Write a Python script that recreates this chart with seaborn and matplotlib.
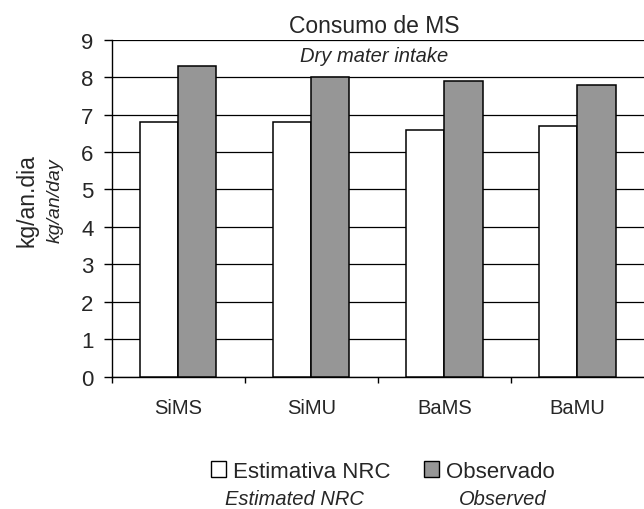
import matplotlib
matplotlib.use('Agg')
import matplotlib.pyplot as plt
import pandas as pd
import seaborn as sns
from matplotlib.patches import Patch

sns.set_style('white')
plt.rcParams['font.family'] = ['Liberation Sans', 'DejaVu Sans']

CATEGORIES = ['SiMS', 'SiMU', 'BaMS', 'BaMU']
ESTIMATED_NRC = [6.8, 6.8, 6.6, 6.7]
OBSERVED = [8.3, 8.0, 7.9, 7.8]
SERIES = ['Estimativa NRC', 'Observado']
SERIES_EN = ['Estimated NRC', 'Observed']
Y_TICKS = list(range(0, 10))


def main() -> None:
    """Draws the grouped bar chart and saves it."""
    df = pd.DataFrame({
        'category': CATEGORIES * 2,
        'value': ESTIMATED_NRC + OBSERVED,
        'series': [SERIES[0]] * len(CATEGORIES) + [SERIES[1]] * len(CATEGORIES),
    })
    colors = {SERIES[0]: '#ffffff', SERIES[1]: '#969696'}

    fig = plt.figure(figsize=(6.44, 5.10), dpi=100)
    ax = fig.add_axes([111.5 / 644, 0.2594, 532.5 / 644, 0.6608])
    sns.barplot(
        data=df, x='category', y='value', hue='series', order=CATEGORIES,
        hue_order=SERIES, palette=colors, width=0.575, edgecolor='black',
        linewidth=1.1, ax=ax, legend=False, zorder=3,
    )
    ax.set_xlim(-0.5, 3.5)
    ax.set_ylim(0, 9)
    ax.set_yticks(Y_TICKS)
    ax.yaxis.grid(True, color='black', linewidth=0.9, zorder=0)
    ax.set_axisbelow(True)
    for side in ['top', 'right']:
        ax.spines[side].set_visible(False)
    for side in ['left', 'bottom']:
        ax.spines[side].set_color('black')
        ax.spines[side].set_linewidth(1.0)

    ax.tick_params(axis='y', length=6, width=1, color='black', labelsize=16, pad=7, left=True)
    ax.set_xticks(range(len(CATEGORIES)))
    ax.set_xticklabels(CATEGORIES)
    ax.tick_params(axis='x', which='major', length=0, labelsize=14.5, pad=15)
    ax.set_xticks([-0.5, 0.5, 1.5, 2.5], minor=True)
    ax.tick_params(axis='x', which='minor', length=4, width=1, color='black', bottom=True)
    ax.set_xlabel('')
    ax.set_ylabel('')

    # titles
    fig.text(0.5815, 1 - 33 / 510, 'Consumo de MS', ha='center', va='baseline', fontsize=16.5)
    fig.text(0.5815, 1 - 62 / 510, 'Dry mater intake', ha='center', va='baseline',
             fontsize=14.5, style='italic')

    # y-axis labels
    fig.text(27 / 644, 0.607, 'kg/an.dia', rotation=90, ha='center', va='center', fontsize=16.5)
    fig.text(55 / 644, 0.607, 'kg/an/day', rotation=90, ha='center', va='center',
             fontsize=14, style='italic')

    # legend
    handles = [Patch(facecolor=colors[s], edgecolor='black', linewidth=1.0) for s in SERIES]
    fig.legend(
        handles, SERIES, loc='center', bbox_to_anchor=(0.594, 0.074), ncol=2, frameon=False,
        fontsize=16, handlelength=0.68, handleheight=0.68, handletextpad=0.32,
        columnspacing=1.5, borderpad=0, borderaxespad=0,
    )
    fig.text(294 / 644, 0.01, SERIES_EN[0], ha='center', va='baseline', fontsize=14.5, style='italic')
    fig.text(503 / 644, 0.01, SERIES_EN[1], ha='center', va='baseline', fontsize=14.5, style='italic')

    fig.savefig('out.png', dpi=100)


if __name__ == '__main__':
    main()
